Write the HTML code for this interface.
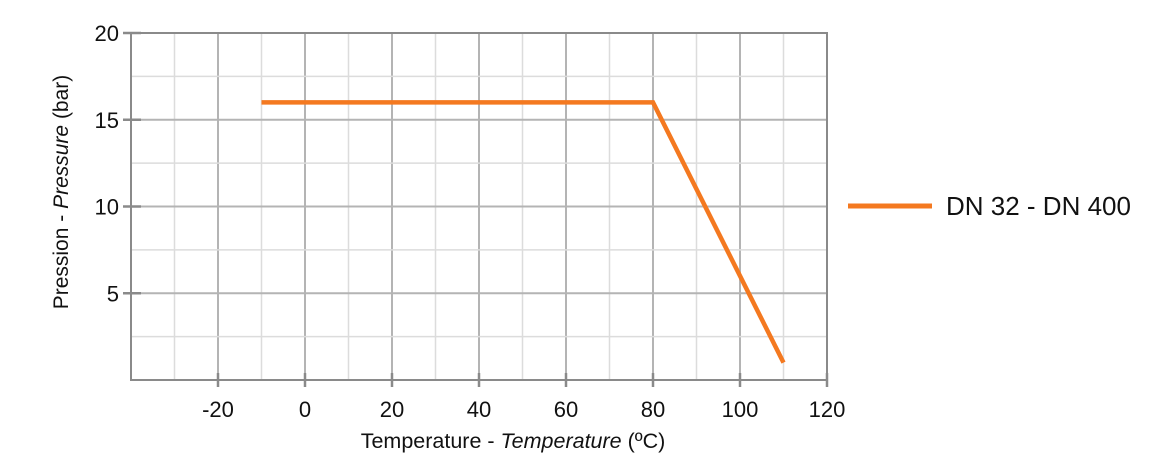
<!DOCTYPE html>
<html><head><meta charset="utf-8"><style>
body{margin:0;background:#fff;}
svg text{font-family:"Liberation Sans",sans-serif;fill:#111;}
</style></head><body>
<svg width="1152" height="468" viewBox="0 0 1152 468">
<g id="grid"></g>
<g id="axes"></g>
<g id="series"></g>
<text x="513" y="448" text-anchor="middle" font-size="21.5">Temperature - <tspan font-style="italic">Temperature</tspan> (ºC)</text>
<text transform="translate(68,192) rotate(-90)" text-anchor="middle" font-size="21">Pression - <tspan font-style="italic">Pressure</tspan>  (bar)</text>
<line x1="848" y1="206" x2="932" y2="206" stroke="#f47920" stroke-width="5"/>
<text x="946" y="215" font-size="26">DN 32 - DN 400</text>
</svg>
<script>
const xTicks=[-20,0,20,40,60,80,100,120];
const yTicks=[5,10,15,20];
const temps=[-10,80,110];
const pressures=[16,16,1];
const NS="http://www.w3.org/2000/svg";
const x0=131,x1=827,y0=380,y1=33;
const xs=v=>x0+(v+40)/160*(x1-x0);
const ys=v=>y0-v/20*(y0-y1);
function mk(t,a,p){const e=document.createElementNS(NS,t);for(const k in a)e.setAttribute(k,a[k]);p.appendChild(e);return e;}
const grid=document.getElementById('grid'),axes=document.getElementById('axes'),ser=document.getElementById('series');
for(let v=-30;v<=110;v+=10){const major=v%20===0;
const l=mk('line',{x1:xs(v),x2:xs(v),y1:y1,y2:y0,stroke:major?'#b4b4b4':'#dcdcdc','stroke-width':major?2:1.5},grid);

}
for(let v=2.5;v<20;v+=2.5){const major=v%5===0;
const l=mk('line',{x1:x0,x2:x1,y1:ys(v),y2:ys(v),stroke:major?'#b4b4b4':'#dcdcdc','stroke-width':major?2:1.5},grid);

}
const fr=mk('rect',{x:x0,y:y1,width:x1-x0,height:y0-y1,fill:'none',stroke:'#8a8a8a','stroke-width':2},axes);


xTicks.forEach(v=>{const X=xs(v);
const t=mk('line',{x1:X,x2:X,y1:373,y2:387,stroke:'#8a8a8a','stroke-width':2.5},axes);


const tx=mk('text',{x:X,y:417,'text-anchor':'middle','font-size':22},axes);tx.textContent=v;

});
yTicks.forEach(v=>{const Y=ys(v);
const t=mk('line',{x1:123,x2:141,y1:Y,y2:Y,stroke:'#8a8a8a','stroke-width':2.5},axes);


const tx=mk('text',{x:119,y:Y+8,'text-anchor':'end','font-size':22},axes);tx.textContent=v;

});
const pts=temps.map((t,i)=>xs(t)+','+ys(pressures[i])).join(' ');
const pl=mk('polyline',{points:pts,fill:'none',stroke:'#f47920','stroke-width':4.5,'stroke-linejoin':'miter'},ser);


</script>
</body></html>
